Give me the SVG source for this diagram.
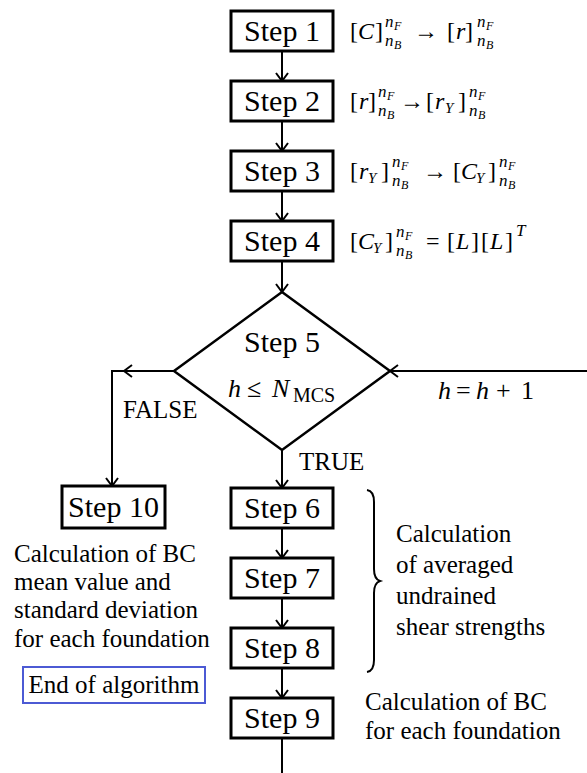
<svg xmlns="http://www.w3.org/2000/svg" width="587" height="773" viewBox="0 0 587 773">
<style>
text{font-family:"Liberation Serif","Times New Roman",serif;fill:#000}
.st{font-size:30px;text-anchor:middle}
.lbl{font-size:25px}
.m{font-size:24px}
.s{font-size:17px;font-style:italic}
.ss{font-size:12px;font-style:italic}
.i{font-style:italic}
.box{fill:#fff;stroke:#000;stroke-width:3}
.con{fill:none;stroke:#000;stroke-width:2}
</style>
<defs>
<marker id="ah" viewBox="0 0 12 14" refX="10" refY="7" markerWidth="12" markerHeight="14" markerUnits="userSpaceOnUse" orient="auto">
<path d="M2,1 L10,7 L2,13" fill="none" stroke="#000" stroke-width="2"/>
</marker>
</defs>
<g id="connectors">
<path class="con" d="M282,51 L282,81" marker-end="url(#ah)"/>
<path class="con" d="M282,121 L282,151" marker-end="url(#ah)"/>
<path class="con" d="M282,191 L282,221" marker-end="url(#ah)"/>
<path class="con" d="M282,261 L282,292" marker-end="url(#ah)"/>
<path class="con" d="M282,450 L282,488" marker-end="url(#ah)"/>
<path class="con" d="M282,528 L282,558" marker-end="url(#ah)"/>
<path class="con" d="M282,598 L282,628" marker-end="url(#ah)"/>
<path class="con" d="M282,668 L282,698" marker-end="url(#ah)"/>
<path class="con" d="M282,738 L282,773"/>
<path class="con" d="M174,371 L124,371" marker-end="url(#ah)"/>
<path class="con" d="M126,371 L112,371 L112,486" marker-end="url(#ah)"/>
<path class="con" d="M587,371 L390,371" marker-end="url(#ah)"/>
</g>
<g id="step1">
<rect class="box" x="231" y="11" width="102" height="40"/>
<text class="st" x="282" y="41">Step 1</text>
<text class="m" y="39"><tspan x="350">[</tspan><tspan x="358" class="i">C</tspan><tspan x="375">]</tspan><tspan x="414">→</tspan><tspan x="447">[</tspan><tspan x="456" class="i">r</tspan><tspan x="465">]</tspan></text>
<text class="s" x="385" y="27">n</text><text class="ss" x="394" y="30">F</text>
<text class="s" x="385" y="46">n</text><text class="ss" x="394" y="49">B</text>
<text class="s" x="477" y="27">n</text><text class="ss" x="486" y="30">F</text>
<text class="s" x="477" y="46">n</text><text class="ss" x="486" y="49">B</text>
</g>
<g id="step2">
<rect class="box" x="231" y="81" width="102" height="40"/>
<text class="st" x="282" y="111">Step 2</text>
<text class="m" y="109"><tspan x="350">[</tspan><tspan x="359" class="i">r</tspan><tspan x="368">]</tspan><tspan x="400">→</tspan><tspan x="426">[</tspan><tspan x="435" class="i">r</tspan><tspan x="458">]</tspan></text>
<text class="s" x="445" y="113" style="font-size:15px">Y</text>
<text class="s" x="378" y="97">n</text><text class="ss" x="387" y="100">F</text>
<text class="s" x="378" y="116">n</text><text class="ss" x="387" y="119">B</text>
<text class="s" x="469" y="97">n</text><text class="ss" x="478" y="100">F</text>
<text class="s" x="469" y="116">n</text><text class="ss" x="478" y="119">B</text>
</g>
<g id="step3">
<rect class="box" x="231" y="151" width="102" height="40"/>
<text class="st" x="282" y="181">Step 3</text>
<text class="m" y="179"><tspan x="350">[</tspan><tspan x="359" class="i">r</tspan><tspan x="381">]</tspan><tspan x="423">→</tspan><tspan x="453">[</tspan><tspan x="461" class="i">C</tspan><tspan x="488">]</tspan></text>
<text class="s" x="368" y="183" style="font-size:15px">Y</text>
<text class="s" x="476" y="183" style="font-size:15px">Y</text>
<text class="s" x="392" y="167">n</text><text class="ss" x="401" y="170">F</text>
<text class="s" x="392" y="186">n</text><text class="ss" x="401" y="189">B</text>
<text class="s" x="499" y="167">n</text><text class="ss" x="508" y="170">F</text>
<text class="s" x="499" y="186">n</text><text class="ss" x="508" y="189">B</text>
</g>
<g id="step4">
<rect class="box" x="231" y="221" width="102" height="40"/>
<text class="st" x="282" y="251">Step 4</text>
<text class="m" y="249"><tspan x="350">[</tspan><tspan x="358" class="i">C</tspan><tspan x="385">]</tspan><tspan x="426">=</tspan><tspan x="447">[</tspan><tspan x="456" class="i">L</tspan><tspan x="471">]</tspan><tspan x="481">[</tspan><tspan x="490" class="i">L</tspan><tspan x="505">]</tspan></text>
<text class="s" x="373" y="253" style="font-size:15px">Y</text>
<text class="s" x="396" y="237">n</text><text class="ss" x="405" y="240">F</text>
<text class="s" x="396" y="256">n</text><text class="ss" x="405" y="259">B</text>
<text class="s" x="516" y="236">T</text>
</g>
<g id="step5">
<path d="M282,292 L390,371 L282,450 L174,371 Z" fill="#fff" stroke="#000" stroke-width="2.5"/>
<text class="st" x="282" y="352">Step 5</text>
<text class="m" y="397" style="font-size:26px"><tspan x="228" class="i">h</tspan><tspan x="247">≤</tspan><tspan x="272" class="i">N</tspan></text>
<text class="m" x="293" y="402" style="font-size:20px">MCS</text>
</g>
<g id="labels">
<text class="lbl" x="123" y="418">FALSE</text>
<text class="lbl" x="299" y="470">TRUE</text>
<text class="m" y="399" style="font-size:26px"><tspan x="438" class="i">h</tspan><tspan x="456">=</tspan><tspan x="476" class="i">h</tspan><tspan x="496">+</tspan><tspan x="521">1</tspan></text>
</g>
<g id="step6">
<rect class="box" x="231" y="488" width="102" height="40"/>
<text class="st" x="282" y="518">Step 6</text>
</g>
<g id="step7">
<rect class="box" x="231" y="558" width="102" height="40"/>
<text class="st" x="282" y="588">Step 7</text>
</g>
<g id="step8">
<rect class="box" x="231" y="628" width="102" height="40"/>
<text class="st" x="282" y="658">Step 8</text>
</g>
<g id="step9">
<rect class="box" x="231" y="698" width="102" height="40"/>
<text class="st" x="282" y="728">Step 9</text>
</g>
<g id="step10">
<rect class="box" x="62" y="486" width="103" height="42" stroke-width="2.5"/>
<text class="st" x="113.5" y="517">Step 10</text>
</g>
<g id="step10-note">
<text class="lbl" x="14" y="562">Calculation of BC</text>
<text class="lbl" x="14" y="590">mean value and</text>
<text class="lbl" x="14" y="618">standard deviation</text>
<text class="lbl" x="14" y="647">for each foundation</text>
</g>
<g id="end">
<rect x="23" y="667" width="182" height="36" fill="#fff" stroke="#4c5ad4" stroke-width="2"/>
<text class="lbl" x="114" y="693" text-anchor="middle">End of algorithm</text>
</g>
<g id="brace-note">
<path d="M367,490 Q374,491 374,502 L374,569 Q374,579 380,581 Q374,583 374,593 L374,660 Q374,671 367,672" fill="none" stroke="#000" stroke-width="2"/>
<text class="lbl" x="396" y="542">Calculation</text>
<text class="lbl" x="396" y="573">of averaged</text>
<text class="lbl" x="396" y="604">undrained</text>
<text class="lbl" x="396" y="635">shear strengths</text>
</g>
<g id="step9-note">
<text class="lbl" x="365" y="710">Calculation of BC</text>
<text class="lbl" x="365" y="739">for each foundation</text>
</g>
</svg>
